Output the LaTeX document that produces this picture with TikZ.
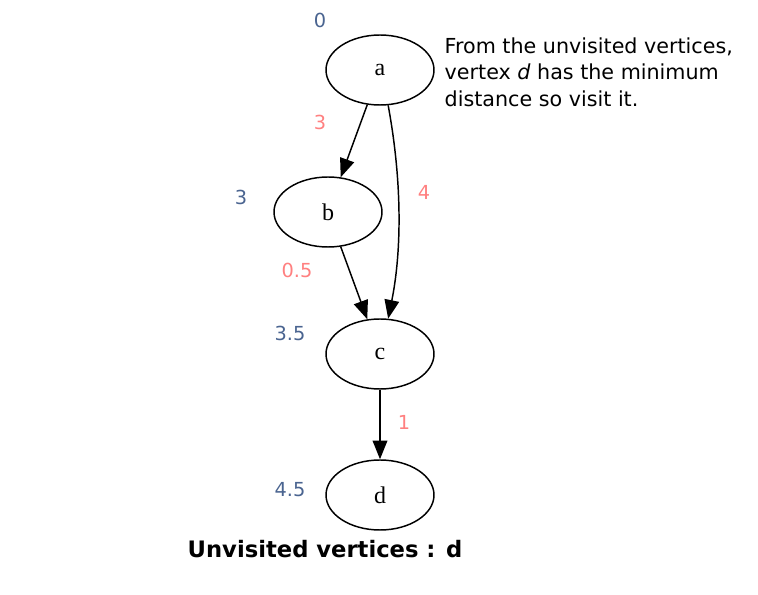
\documentclass[tikz,border=0pt]{standalone}
\usepackage{fontspec}
\setmainfont{Liberation Serif}
\newfontfamily\verd{DejaVu Sans}
\usepackage{tikz}
\usetikzlibrary{arrows.meta,shapes.geometric}
\definecolor{distblue}{HTML}{4A6490}
\definecolor{wtpink}{HTML}{FF8080}

\begin{document}
\begin{tikzpicture}[x=0.75pt,y=0.75pt,
  vtx/.style={draw, ellipse, line width=1.1pt, inner sep=0pt, minimum width=81pt, minimum height=52.5pt, font=\fontsize{18}{20}\selectfont},
  dist/.style={text=distblue, font=\verd\fontsize{14.5}{16}\selectfont},
  wt/.style={text=wtpink, font=\verd\fontsize{14.5}{16}\selectfont},
  >={Triangle[length=14pt,width=11pt]}]
  \useasboundingbox (0,0) rectangle (758,-595);
  \node[vtx] (a) at (380,-70) {a};
  \node[vtx] (b) at (328,-212) {b};
  \node[vtx] (c) at (380,-354) {c};
  \node[vtx] (d) at (380,-495) {d};
  % distances
  \node[dist] (da) at (320,-20) {0};
  \node[dist] (db) at (241,-197) {3};
  \node[dist] (dc) at (290,-333) {3.5};
  \node[dist] (dd) at (290,-490) {4.5};
  % weights
  \node[wt] (wab) at (320,-122) {3};
  \node[wt] (wac) at (424,-192) {4};
  \node[wt] (wbc) at (297,-270) {0.5};
  \node[wt] (wcd) at (404,-422) {1};
  \draw[->, line width=1.1pt] (a) -- (b);
  \draw[->, line width=1.1pt] (a.-77) .. controls (402,-180) and (402,-250) .. (c.77);
  \draw[->, line width=1.1pt] (b) -- (c);
  \draw[->, line width=1.1pt] (c) -- (d);
  \node[anchor=west, align=left, font=\verd\fontsize{15.5}{20}\selectfont] (note) at (440,-72)
    {From the unvisited vertices,\\vertex \textit{d} has the minimum\\distance so visit it.};
  \node[font=\verd\bfseries\fontsize{17}{20}\selectfont] (unv) at (325,-549) {Unvisited vertices : d};
\end{tikzpicture}
\end{document}
